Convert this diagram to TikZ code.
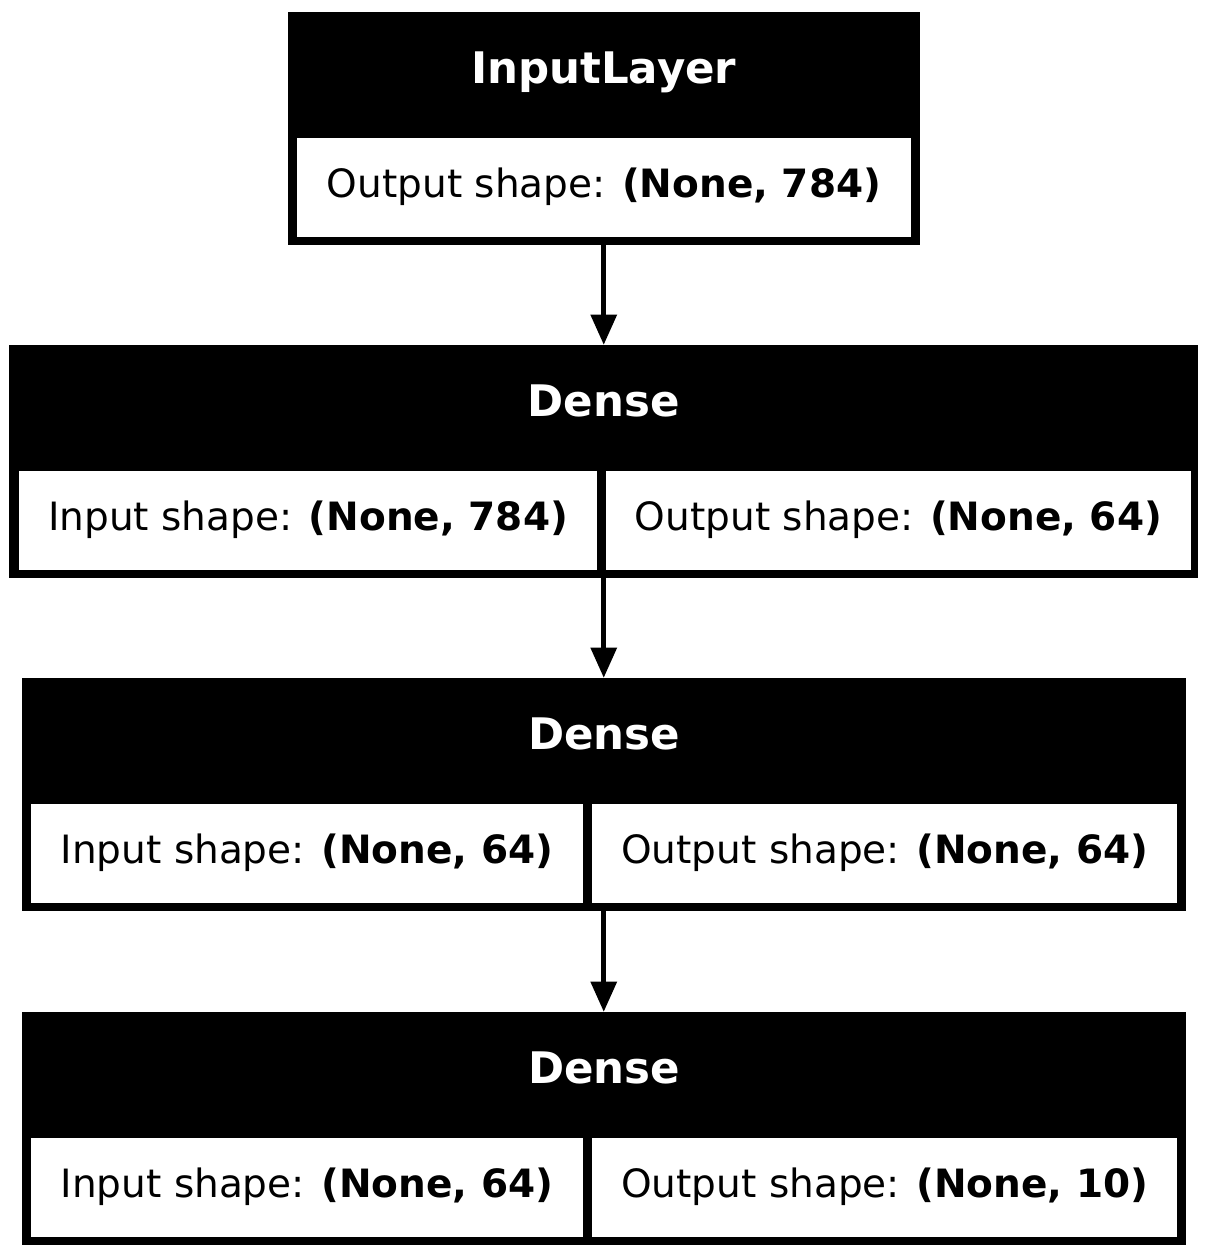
\documentclass[tikz,border=0pt]{standalone}
\usepackage{fontspec}
\setmainfont{DejaVu Sans}
\usetikzlibrary{arrows.meta}
\tikzset{
  outerbox/.style={fill=black, draw=none, inner sep=0pt, outer sep=0pt, anchor=north west},
  cellbox/.style={fill=white, draw=black, line width=1.2pt, inner sep=0pt, outer sep=0pt, anchor=north west},
  headtext/.style={text=white, font=\fontsize{43.5}{50}\selectfont\bfseries, inner sep=0pt, anchor=base},
  bodytext/.style={text=black, font=\fontsize{39}{46}\selectfont, inner sep=0pt, anchor=base},
  conn/.style={line width=5pt, -{Triangle[length=30pt,width=27pt,line width=0pt]}}
}
\begin{document}
\begin{tikzpicture}[x=1pt,y=-1pt]
\useasboundingbox (0,0) rectangle (1208,1256);

% Box 1: InputLayer
\node[outerbox, minimum width=632.5pt, minimum height=233pt] (b1) at (287.5,11.5) {};
\node[cellbox, minimum width=615pt, minimum height=100.5pt] (c1) at (296.5,137) {};
\node[headtext] (h1) at ([yshift=-72pt]b1.north) {InputLayer};
\node[bodytext] (t1) at ([yshift=-60pt]c1.north) {Output shape: \textbf{(None, 784)}};

% Box 2: Dense
\node[outerbox, minimum width=1189pt, minimum height=233pt] (b2) at (9.3,344.5) {};
\node[cellbox, minimum width=578.7pt, minimum height=100.5pt] (c2a) at (18.8,470) {};
\node[cellbox, minimum width=586pt, minimum height=100.5pt] (c2b) at (605.5,470) {};
\node[headtext] (h2) at ([yshift=-72pt]b2.north) {Dense};
\node[bodytext] (t2a) at ([yshift=-60pt]c2a.north) {Input shape: \textbf{(None, 784)}};
\node[bodytext] (t2b) at ([yshift=-60pt]c2b.north) {Output shape: \textbf{(None, 64)}};

% Box 3: Dense
\node[outerbox, minimum width=1163.7pt, minimum height=233pt] (b3) at (22.3,677.5) {};
\node[cellbox, minimum width=552.6pt, minimum height=100.5pt] (c3a) at (30.7,803) {};
\node[cellbox, minimum width=586.3pt, minimum height=100.5pt] (c3b) at (591.7,803) {};
\node[headtext] (h3) at ([yshift=-72pt]b3.north) {Dense};
\node[bodytext] (t3a) at ([yshift=-60pt]c3a.north) {Input shape: \textbf{(None, 64)}};
\node[bodytext] (t3b) at ([yshift=-60pt]c3b.north) {Output shape: \textbf{(None, 64)}};

% Box 4: Dense
\node[outerbox, minimum width=1163.7pt, minimum height=233pt] (b4) at (22.3,1011.5) {};
\node[cellbox, minimum width=552.6pt, minimum height=100.5pt] (c4a) at (30.7,1137) {};
\node[cellbox, minimum width=586.3pt, minimum height=100.5pt] (c4b) at (591.7,1137) {};
\node[headtext] (h4) at ([yshift=-72pt]b4.north) {Dense};
\node[bodytext] (t4a) at ([yshift=-60pt]c4a.north) {Input shape: \textbf{(None, 64)}};
\node[bodytext] (t4b) at ([yshift=-60pt]c4b.north) {Output shape: \textbf{(None, 10)}};

% Connectors
\draw[conn] (b1.south) -- (b1.south |- b2.north);
\draw[conn] (b1.south |- b2.south) -- (b1.south |- b3.north);
\draw[conn] (b1.south |- b3.south) -- (b1.south |- b4.north);
\end{tikzpicture}
\end{document}
